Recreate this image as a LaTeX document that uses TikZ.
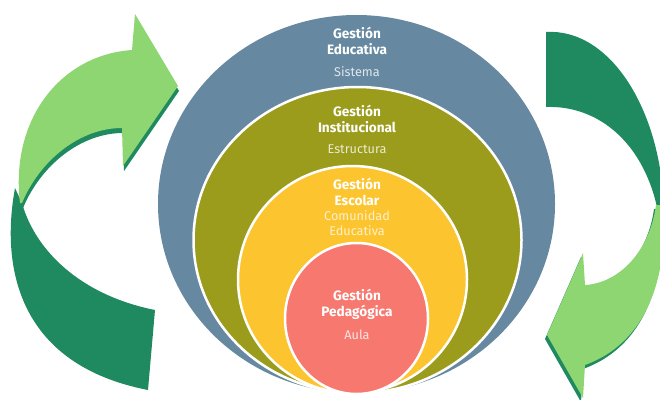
\documentclass[tikz,border=0pt]{standalone}
\usepackage{fontspec}
\setmainfont{Fira Sans}
\usetikzlibrary{shapes.geometric}
\definecolor{cblue}{HTML}{6689A1}
\definecolor{colive}{HTML}{9B9C1C}
\definecolor{cyellow}{HTML}{FCC42F}
\definecolor{cpink}{HTML}{F6786F}
\definecolor{dgreen}{HTML}{1F8A60}
\definecolor{lgreen}{HTML}{8DD671}
\def\leftlight{(20,203) .. controls (10,120) and (60,55) .. (132,50) -- (135,14) -- (178,86) -- (123,166) -- (122,128) .. controls (80,128) and (40,160) .. (22,203) -- cycle}
\def\rightlight{(656,205) .. controls (650,250) and (620,283) .. (585,285) -- (583,253) -- (547,335) -- (583,398) -- (585,365) .. controls (640,345) and (668,290) .. (664,205) -- cycle}
\begin{document}
\begin{tikzpicture}[x=1pt,y=-1pt,
  ring/.style={ellipse, inner sep=0pt, draw=white, line width=2.5pt},
  ttl/.style={font=\fontsize{13.6}{16}\selectfont\bfseries, text=white, align=center, inner sep=0pt},
  sub/.style={font=\fontsize{12.7}{14.5}\selectfont, align=center, inner sep=0pt}]
\useasboundingbox (0,0) rectangle (660,399);
% left arrow
\fill[dgreen] (15,188) .. controls (0,270) and (20,365) .. (148,390) -- (155,310) .. controls (80,295) and (35,250) .. (22,203) -- cycle;
\fill[dgreen, shift={(1,5)}] \leftlight;
\fill[lgreen] \leftlight;
% right arrow
\fill[dgreen] (546,32) .. controls (610,28) and (662,110) .. (664,212) -- (658,212) .. controls (645,145) and (600,105) .. (546,107) -- cycle;
\fill[dgreen, shift={(-2,4)}] \rightlight;
\fill[lgreen] \rightlight;
% circles
\node[ring, fill=cblue, draw=none, minimum width=397pt, minimum height=378pt] (edu) at (356.5,204) {};
\node[ring, fill=colive, minimum width=328pt, minimum height=306pt] (inst) at (357.5,240) {};
\node[ring, fill=cyellow, minimum width=229pt, minimum height=227pt] (esc) at (352.5,279.5) {};
\node[ring, fill=cpink, minimum width=143pt, minimum height=151pt] (ped) at (356.5,318.5) {};
% texts
\node[ttl] (t1) at (357,41) {Gestión\\Educativa};
\node[sub, text=white!80!cblue] (s1) at (357,72) {Sistema};
\node[ttl] (t2) at (357,118.5) {Gestión\\Institucional};
\node[sub, text=white!80!colive] (s2) at (357,149) {Estructura};
\node[ttl] (t3) at (357,191.5) {Gestión\\Escolar};
\node[sub, text=white!75!cyellow] (s3) at (357,223) {Comunidad\\Educativa};
\node[ttl] (t4) at (357,304) {Gestión\\Pedagógica};
\node[sub, text=white!80!cpink] (s4) at (357,335) {Aula};
\end{tikzpicture}
\end{document}
